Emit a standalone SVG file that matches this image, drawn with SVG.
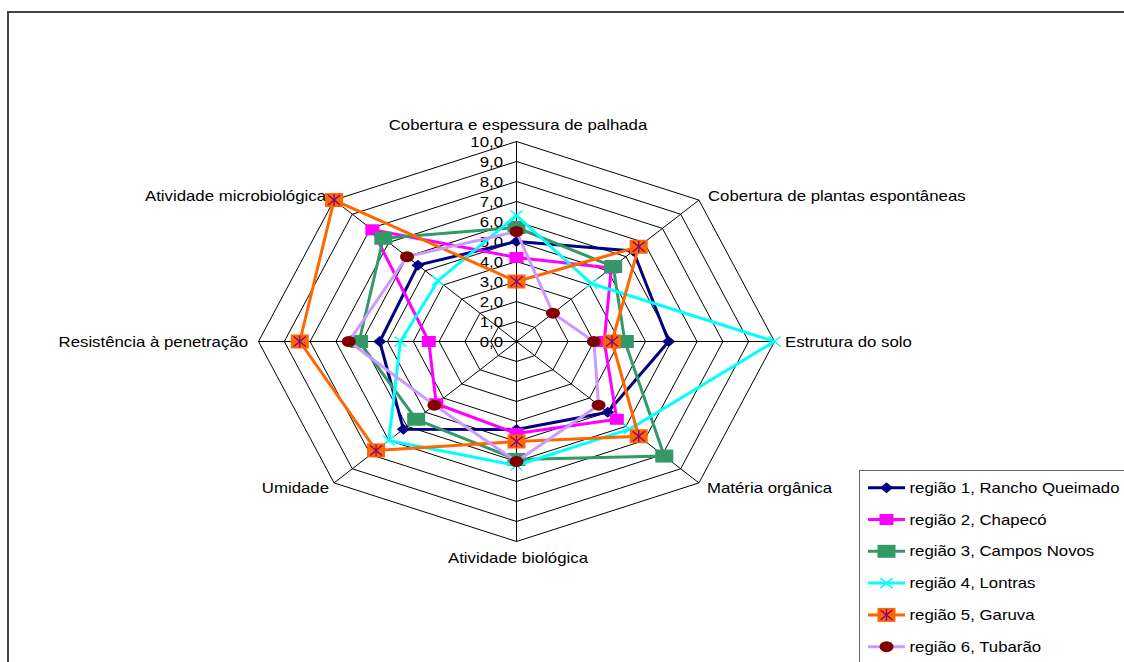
<svg xmlns="http://www.w3.org/2000/svg" xmlns:xlink="http://www.w3.org/1999/xlink" width="1124" height="662" viewBox="0 0 1124 662">
<style>
.t{font-family:"Liberation Sans",Arial,sans-serif;font-size:14px;fill:#000}
.grid{fill:none;stroke:#000;stroke-width:1}
.s{fill:none;stroke-width:3;stroke-linejoin:round}
</style>
<defs>
<g id="m1"><polygon points="0,-5.5 6.5,0 0,5.5 -6.5,0" fill="#000080"/></g>
<g id="m2"><rect x="-7" y="-5.5" width="14" height="11" fill="#FF00FF"/></g>
<g id="m3"><rect x="-9" y="-6.5" width="18" height="13" fill="#339966"/></g>
<g id="m4"><path d="M-6,-5 L6,5 M-6,5 L6,-5" stroke="#00FFFF" stroke-width="1.5" fill="none"/></g>
<g id="m5"><rect x="-9" y="-7" width="18" height="14" fill="#FF6600"/><path d="M-6,-5 L6,5 M-6,5 L6,-5 M0,-6 L0,6" stroke="#800080" stroke-width="1.3" fill="none"/></g>
<g id="m6"><ellipse cx="0" cy="0" rx="7" ry="5.5" fill="#800000"/></g>
</defs>
<rect x="0" y="0" width="1124" height="662" fill="#fff"/>
<path d="M8,662 L8,12 L1124,12" fill="none" stroke="#444" stroke-width="2"/>
<g id="grid">
<polygon class="grid" points="516.5,321.5 534.74,327.36 542.3,341.5 534.74,355.64 516.5,361.5 498.26,355.64 490.7,341.5 498.26,327.36"/>
<polygon class="grid" points="516.5,301.5 552.99,313.22 568.1,341.5 552.99,369.78 516.5,381.5 480.01,369.78 464.9,341.5 480.01,313.22"/>
<polygon class="grid" points="516.5,281.5 571.23,299.07 593.9,341.5 571.23,383.93 516.5,401.5 461.77,383.93 439.1,341.5 461.77,299.07"/>
<polygon class="grid" points="516.5,261.5 589.47,284.93 619.7,341.5 589.47,398.07 516.5,421.5 443.53,398.07 413.3,341.5 443.53,284.93"/>
<polygon class="grid" points="516.5,241.5 607.72,270.79 645.5,341.5 607.72,412.21 516.5,441.5 425.28,412.21 387.5,341.5 425.28,270.79"/>
<polygon class="grid" points="516.5,221.5 625.96,256.65 671.3,341.5 625.96,426.35 516.5,461.5 407.04,426.35 361.7,341.5 407.04,256.65"/>
<polygon class="grid" points="516.5,201.5 644.2,242.51 697.1,341.5 644.2,440.49 516.5,481.5 388.8,440.49 335.9,341.5 388.8,242.51"/>
<polygon class="grid" points="516.5,181.5 662.44,228.36 722.9,341.5 662.44,454.64 516.5,501.5 370.56,454.64 310.1,341.5 370.56,228.36"/>
<polygon class="grid" points="516.5,161.5 680.69,214.22 748.7,341.5 680.69,468.78 516.5,521.5 352.31,468.78 284.3,341.5 352.31,214.22"/>
<polygon class="grid" points="516.5,141.5 698.93,200.08 774.5,341.5 698.93,482.92 516.5,541.5 334.07,482.92 258.5,341.5 334.07,200.08"/>
<path class="grid" d="M516.5,341.5 L516.5,141.5 M516.5,341.5 L698.93,200.08 M516.5,341.5 L774.5,341.5 M516.5,341.5 L698.93,482.92 M516.5,341.5 L516.5,541.5 M516.5,341.5 L334.07,482.92 M516.5,341.5 L258.5,341.5 M516.5,341.5 L334.07,200.08"/>
</g>
<g id="scale-labels" class="t" text-anchor="end">
<g transform="translate(503,346.5) scale(1.2,1)"><text>0,0</text></g>
<g transform="translate(503,326.5) scale(1.2,1)"><text>1,0</text></g>
<g transform="translate(503,306.5) scale(1.2,1)"><text>2,0</text></g>
<g transform="translate(503,286.5) scale(1.2,1)"><text>3,0</text></g>
<g transform="translate(503,266.5) scale(1.2,1)"><text>4,0</text></g>
<g transform="translate(503,246.5) scale(1.2,1)"><text>5,0</text></g>
<g transform="translate(503,226.5) scale(1.2,1)"><text>6,0</text></g>
<g transform="translate(503,206.5) scale(1.2,1)"><text>7,0</text></g>
<g transform="translate(503,186.5) scale(1.2,1)"><text>8,0</text></g>
<g transform="translate(503,166.5) scale(1.2,1)"><text>9,0</text></g>
<g transform="translate(503,146.5) scale(1.2,1)"><text>10,0</text></g>
</g>
<g id="axis-labels" class="t">
<g transform="translate(518,130) scale(1.2,1)"><text text-anchor="middle">Cobertura e espessura de palhada</text></g>
<g transform="translate(708,201) scale(1.2,1)"><text>Cobertura de plantas espontâneas</text></g>
<g transform="translate(785,347) scale(1.2,1)"><text>Estrutura do solo</text></g>
<g transform="translate(707,493) scale(1.2,1)"><text>Matéria orgânica</text></g>
<g transform="translate(518,563) scale(1.2,1)"><text text-anchor="middle">Atividade biológica</text></g>
<g transform="translate(329,493) scale(1.2,1)"><text text-anchor="end">Umidade</text></g>
<g transform="translate(248,347) scale(1.2,1)"><text text-anchor="end">Resistência à penetração</text></g>
<g transform="translate(326,201) scale(1.2,1)"><text text-anchor="end">Atividade microbiológica</text></g>
</g>
<g id="connectors">
<g id="series1">
<polygon class="s" stroke="#000080" points="516.5,241.5 633.26,250.99 668.72,341.5 607.72,412.21 516.5,429.5 403.39,429.18 379.76,341.5 417.99,265.13"/>
<use xlink:href="#m1" href="#m1" x="516.5" y="241.5"/><use xlink:href="#m1" href="#m1" x="633.26" y="250.99"/><use xlink:href="#m1" href="#m1" x="668.72" y="341.5"/><use xlink:href="#m1" href="#m1" x="607.72" y="412.21"/><use xlink:href="#m1" href="#m1" x="516.5" y="429.5"/><use xlink:href="#m1" href="#m1" x="403.39" y="429.18"/><use xlink:href="#m1" href="#m1" x="379.76" y="341.5"/><use xlink:href="#m1" href="#m1" x="417.99" y="265.13"/>
</g>
<g id="series2">
<polygon class="s" stroke="#FF00FF" points="516.5,257.5 611.36,267.96 604.22,341.5 616.84,419.28 516.5,433.5 436.23,403.72 428.78,341.5 372.38,229.78"/>
<use xlink:href="#m2" href="#m2" x="516.5" y="257.5"/><use xlink:href="#m2" href="#m2" x="611.36" y="267.96"/><use xlink:href="#m2" href="#m2" x="604.22" y="341.5"/><use xlink:href="#m2" href="#m2" x="616.84" y="419.28"/><use xlink:href="#m2" href="#m2" x="516.5" y="433.5"/><use xlink:href="#m2" href="#m2" x="436.23" y="403.72"/><use xlink:href="#m2" href="#m2" x="428.78" y="341.5"/><use xlink:href="#m2" href="#m2" x="372.38" y="229.78"/>
</g>
<g id="series3">
<polygon class="s" stroke="#339966" points="516.5,227.5 613.19,266.55 624.86,341.5 664.27,456.05 516.5,459.5 416.16,419.28 359.12,341.5 383.33,238.26"/>
<use xlink:href="#m3" href="#m3" x="516.5" y="227.5"/><use xlink:href="#m3" href="#m3" x="613.19" y="266.55"/><use xlink:href="#m3" href="#m3" x="624.86" y="341.5"/><use xlink:href="#m3" href="#m3" x="664.27" y="456.05"/><use xlink:href="#m3" href="#m3" x="516.5" y="459.5"/><use xlink:href="#m3" href="#m3" x="416.16" y="419.28"/><use xlink:href="#m3" href="#m3" x="359.12" y="341.5"/><use xlink:href="#m3" href="#m3" x="383.33" y="238.26"/>
</g>
<g id="series4">
<polygon class="s" stroke="#00FFFF" points="516.5,215.5 591.3,283.52 774.5,341.5 629.61,429.18 516.5,465.5 388.8,440.49 400.4,341.5 438.06,280.69"/>
<use xlink:href="#m4" href="#m4" x="516.5" y="215.5"/><use xlink:href="#m4" href="#m4" x="591.3" y="283.52"/><use xlink:href="#m4" href="#m4" x="774.5" y="341.5"/><use xlink:href="#m4" href="#m4" x="629.61" y="429.18"/><use xlink:href="#m4" href="#m4" x="516.5" y="465.5"/><use xlink:href="#m4" href="#m4" x="388.8" y="440.49"/><use xlink:href="#m4" href="#m4" x="400.4" y="341.5"/><use xlink:href="#m4" href="#m4" x="438.06" y="280.69"/>
</g>
<g id="series5">
<polygon class="s" stroke="#FF6600" points="516.5,281.5 638.73,246.75 611.96,341.5 638.73,436.25 516.5,441.5 376.03,450.39 299.78,341.5 334.07,200.08"/>
<use xlink:href="#m5" href="#m5" x="516.5" y="281.5"/><use xlink:href="#m5" href="#m5" x="638.73" y="246.75"/><use xlink:href="#m5" href="#m5" x="611.96" y="341.5"/><use xlink:href="#m5" href="#m5" x="638.73" y="436.25"/><use xlink:href="#m5" href="#m5" x="516.5" y="441.5"/><use xlink:href="#m5" href="#m5" x="376.03" y="450.39"/><use xlink:href="#m5" href="#m5" x="299.78" y="341.5"/><use xlink:href="#m5" href="#m5" x="334.07" y="200.08"/>
</g>
<g id="series6">
<polygon class="s" stroke="#CC99FF" points="516.5,231.5 552.99,313.22 593.9,341.5 598.59,405.14 516.5,461.5 434.41,405.14 348.8,341.5 407.04,256.65"/>
<use xlink:href="#m6" href="#m6" x="516.5" y="231.5"/><use xlink:href="#m6" href="#m6" x="552.99" y="313.22"/><use xlink:href="#m6" href="#m6" x="593.9" y="341.5"/><use xlink:href="#m6" href="#m6" x="598.59" y="405.14"/><use xlink:href="#m6" href="#m6" x="516.5" y="461.5"/><use xlink:href="#m6" href="#m6" x="434.41" y="405.14"/><use xlink:href="#m6" href="#m6" x="348.8" y="341.5"/><use xlink:href="#m6" href="#m6" x="407.04" y="256.65"/>
</g>
</g>
<g id="legend">
<rect x="859.5" y="470.5" width="300" height="220" fill="#fff" stroke="#666" stroke-width="1"/>
<g class="t">
<line x1="868" y1="487.7" x2="905" y2="487.7" stroke="#000080" stroke-width="3"/><use xlink:href="#m1" href="#m1" x="886.5" y="487.7"/>
<g transform="translate(909.5,492.7) scale(1.2,1)"><text>região 1, Rancho Queimado</text></g>
<line x1="868" y1="519.5" x2="905" y2="519.5" stroke="#FF00FF" stroke-width="3"/><use xlink:href="#m2" href="#m2" x="886.5" y="519.5"/>
<g transform="translate(909.5,524.5) scale(1.2,1)"><text>região 2, Chapecó</text></g>
<line x1="868" y1="551.3" x2="905" y2="551.3" stroke="#339966" stroke-width="3"/><use xlink:href="#m3" href="#m3" x="886.5" y="551.3"/>
<g transform="translate(909.5,556.3) scale(1.2,1)"><text>região 3, Campos Novos</text></g>
<line x1="868" y1="583.1" x2="905" y2="583.1" stroke="#00FFFF" stroke-width="3"/><use xlink:href="#m4" href="#m4" x="886.5" y="583.1"/>
<g transform="translate(909.5,588.1) scale(1.2,1)"><text>região 4, Lontras</text></g>
<line x1="868" y1="614.9" x2="905" y2="614.9" stroke="#FF6600" stroke-width="3"/><use xlink:href="#m5" href="#m5" x="886.5" y="614.9"/>
<g transform="translate(909.5,619.9) scale(1.2,1)"><text>região 5, Garuva</text></g>
<line x1="868" y1="646.7" x2="905" y2="646.7" stroke="#CC99FF" stroke-width="3"/><use xlink:href="#m6" href="#m6" x="886.5" y="646.7"/>
<g transform="translate(909.5,651.7) scale(1.2,1)"><text>região 6, Tubarão</text></g>
</g>
</g>
</svg>
